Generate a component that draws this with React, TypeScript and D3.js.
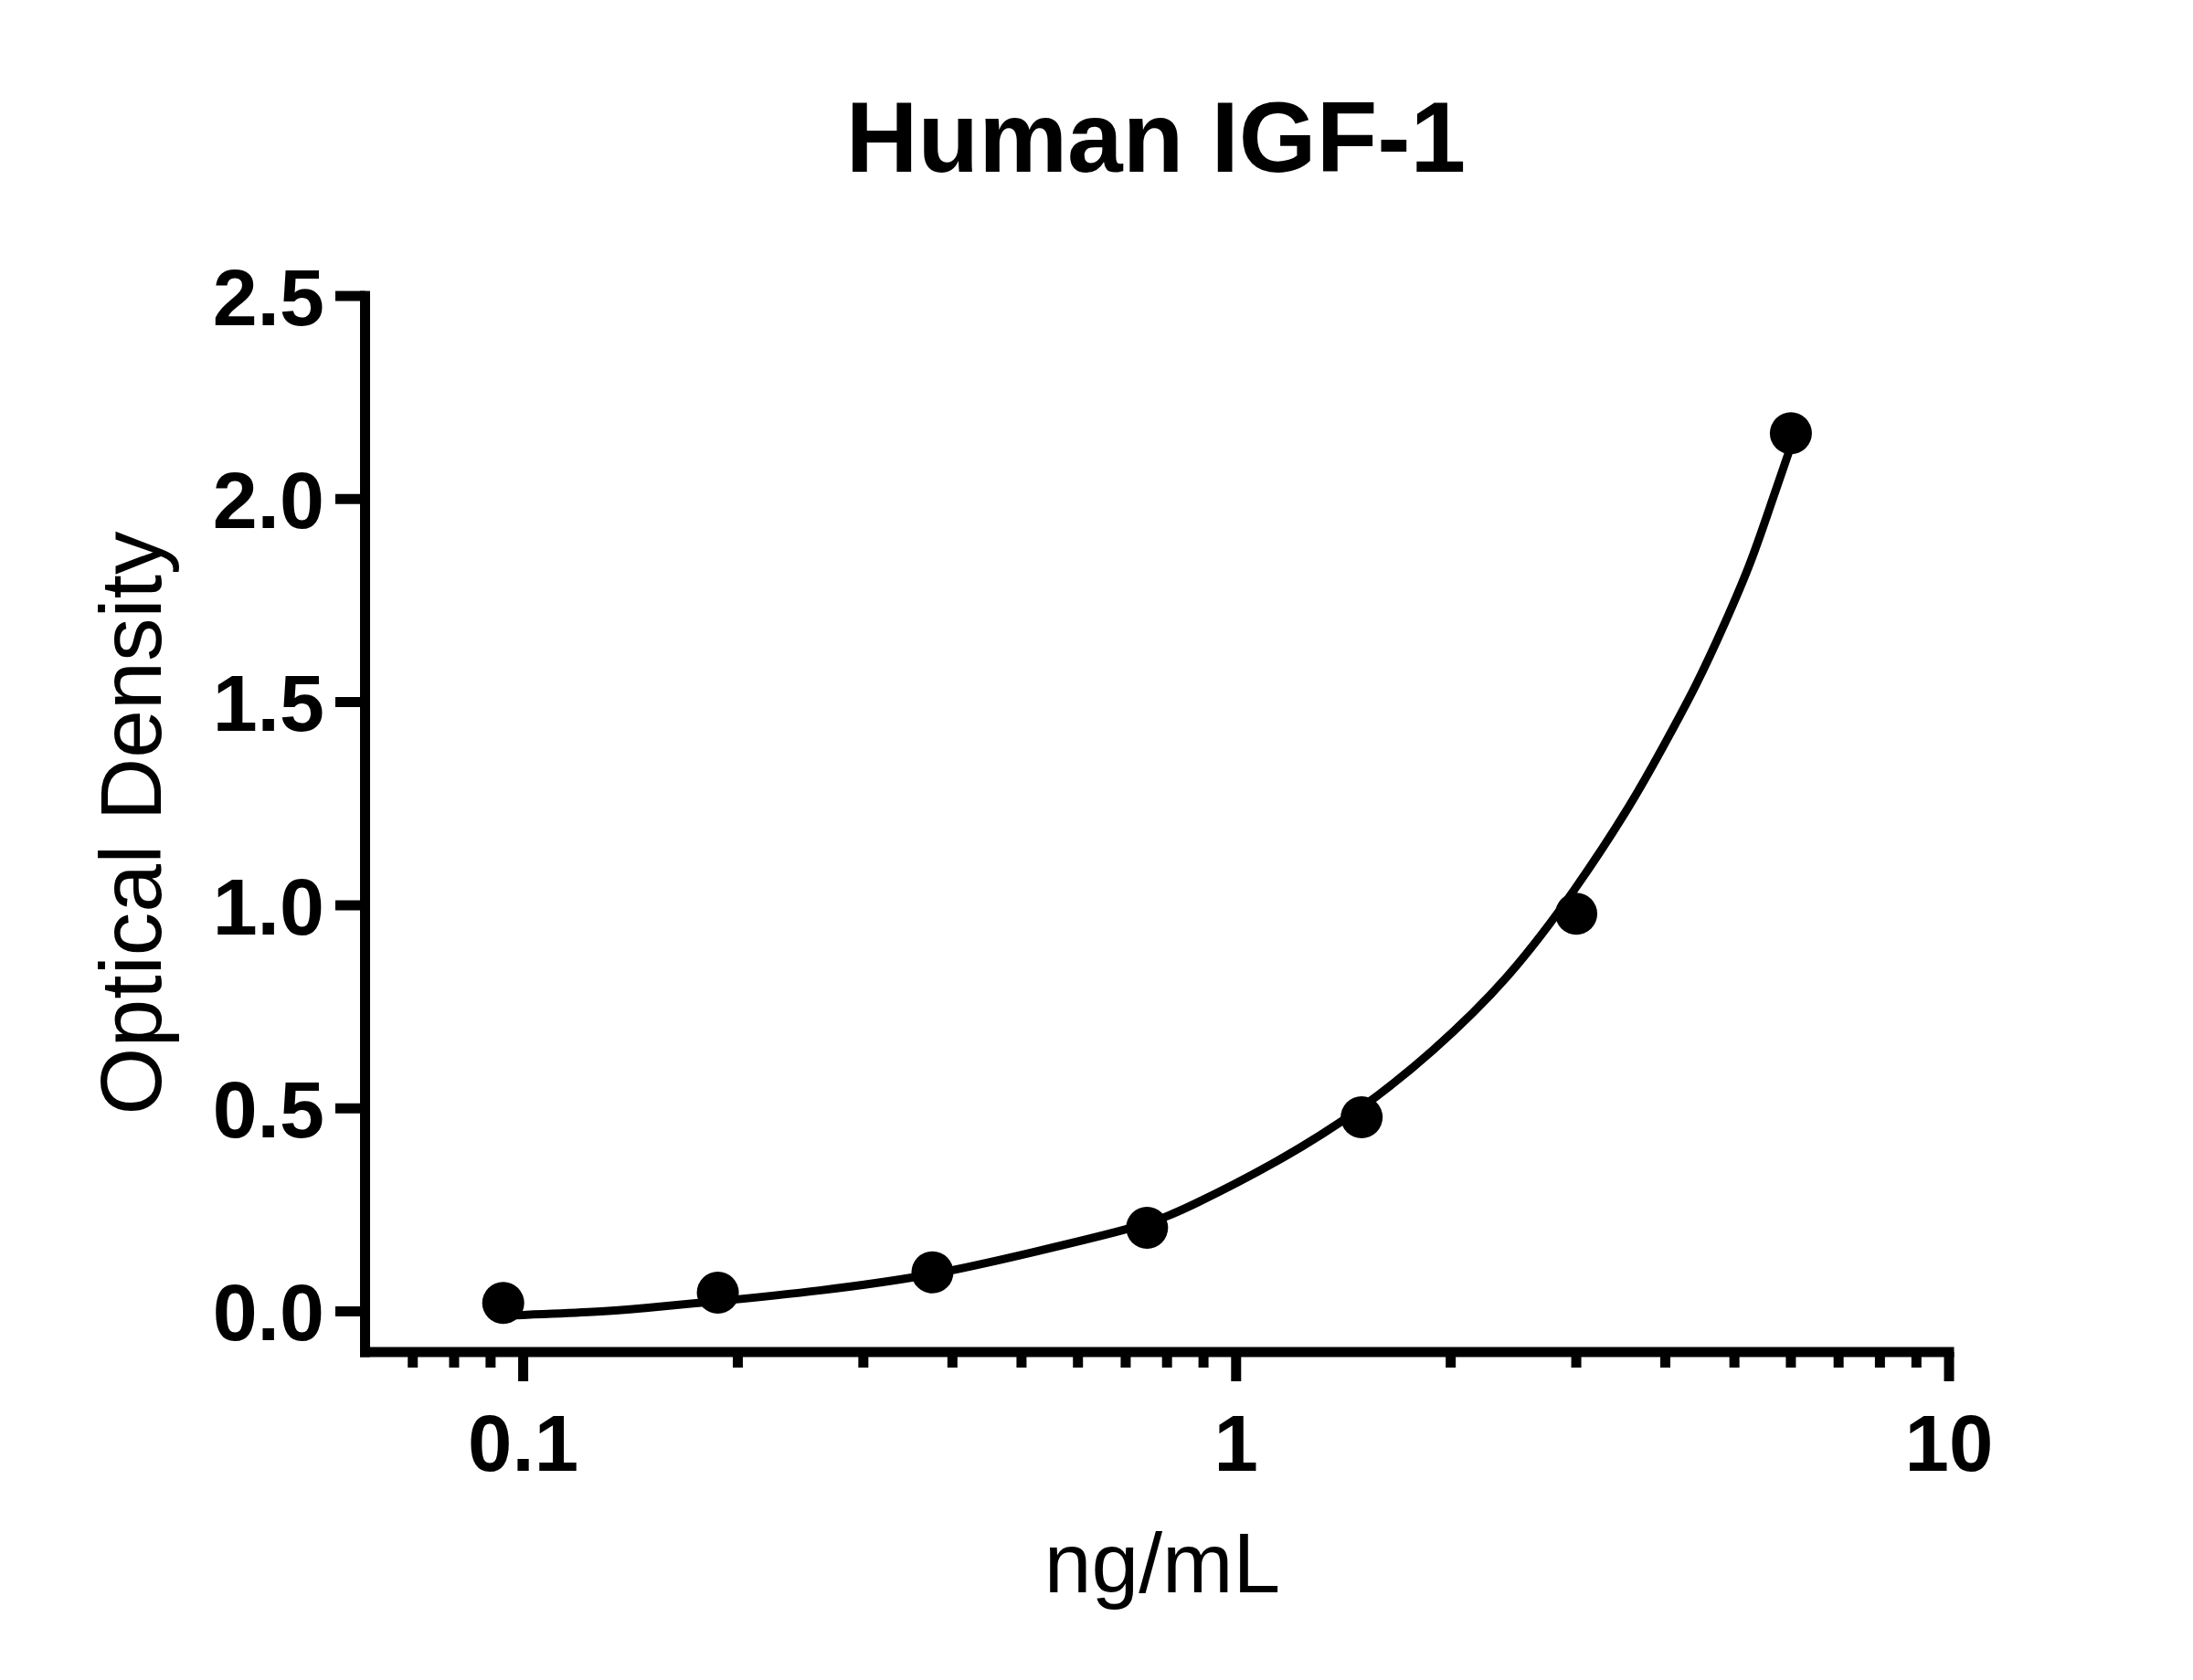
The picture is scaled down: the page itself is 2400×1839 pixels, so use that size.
import * as d3 from 'd3'

// standards (ng/mL) and their mean OD
const concentrations = [0.09375, 0.1875, 0.375, 0.75, 1.5, 3, 6]
const odValues = [0.021, 0.046, 0.096, 0.206, 0.478, 0.979, 2.162]

// fitted curve
const curveConc = [0.0955, 0.126, 0.146, 0.1875, 0.26, 0.375, 0.505, 0.75, 0.856, 1.15, 1.5, 1.88, 2.405, 3.0, 3.589, 3.972, 4.435, 4.844, 5.268, 5.587, 5.97]
const curveOd = [-0.01, -0.002, 0.007, 0.025, 0.05, 0.088, 0.141, 0.212, 0.255, 0.369, 0.497, 0.636, 0.815, 1.04, 1.25, 1.39, 1.545, 1.692, 1.84, 1.972, 2.119]

const yTicks = [0, 0.5, 1, 1.5, 2, 2.5]
const xMajor = [0.1, 1, 10]
const xMinor = [0.07, 0.08, 0.09, 0.2, 0.3, 0.4, 0.5, 0.6, 0.7, 0.8, 0.9, 2, 3, 4, 5, 6, 7, 8, 9]

const W = 2400
const H = 1839
const FONT = '"Liberation Sans", Arial, sans-serif'
const SW = 11

export default function App() {
  const x = d3.scaleLog().domain([0.06, 10]).range([399.5, 2133])
  const y = d3.scaleLinear().domain([-0.1, 2.5]).range([1480, 324])
  const x0 = x.range()[0]
  const y0 = y.range()[0]

  const line = d3.line<number>()
    .x((_, i) => x(curveConc[i]))
    .y((d) => y(d))
    .curve(d3.curveBasis)

  return (
    <svg width={W} height={H} viewBox={`0 0 ${W} ${H}`}
      style={{ position: 'absolute', left: 0, top: 0, background: '#fff', fontFamily: FONT }}>
      <text x={1265} y={188} textAnchor="middle" fontSize={109} fontWeight="bold">Human IGF-1</text>

      {/* y axis */}
      <line x1={x0} x2={x0} y1={y(2.5) - SW / 2} y2={y0 + SW / 2} stroke="#000" strokeWidth={SW} />
      {yTicks.map((t) => (
        <g key={t}>
          <line x1={x0 - 32.5} x2={x0} y1={y(t)} y2={y(t)} stroke="#000" strokeWidth={SW} />
          <text x={355} y={y(t)} dy="0.36em" textAnchor="end" fontSize={88} fontWeight="bold">
            {d3.format('.1f')(t)}
          </text>
        </g>
      ))}
      <text transform={`translate(176,901) rotate(-90)`} textAnchor="middle" fontSize={95}>Optical Density</text>

      {/* x axis */}
      <line x1={x0 - SW / 2} x2={x(10) + SW / 2} y1={y0} y2={y0} stroke="#000" strokeWidth={SW} />
      {xMinor.map((t) => (
        <line key={t} x1={x(t)} x2={x(t)} y1={y0} y2={y0 + 17} stroke="#000" strokeWidth={SW} />
      ))}
      {xMajor.map((t) => (
        <g key={t}>
          <line x1={x(t)} x2={x(t)} y1={y0} y2={y0 + 32} stroke="#000" strokeWidth={SW} />
          <text x={x(t)} y={1610} textAnchor="middle" fontSize={87} fontWeight="bold">{String(t)}</text>
        </g>
      ))}
      <text x={1272} y={1743} textAnchor="middle" fontSize={93}>ng/mL</text>

      {/* curve + points */}
      <path d={line(curveOd) ?? ''} fill="none" stroke="#000" strokeWidth={9} />
      {concentrations.map((c, i) => (
        <circle key={c} cx={x(c)} cy={y(odValues[i])} r={23} fill="#000" />
      ))}
    </svg>
  )
}
